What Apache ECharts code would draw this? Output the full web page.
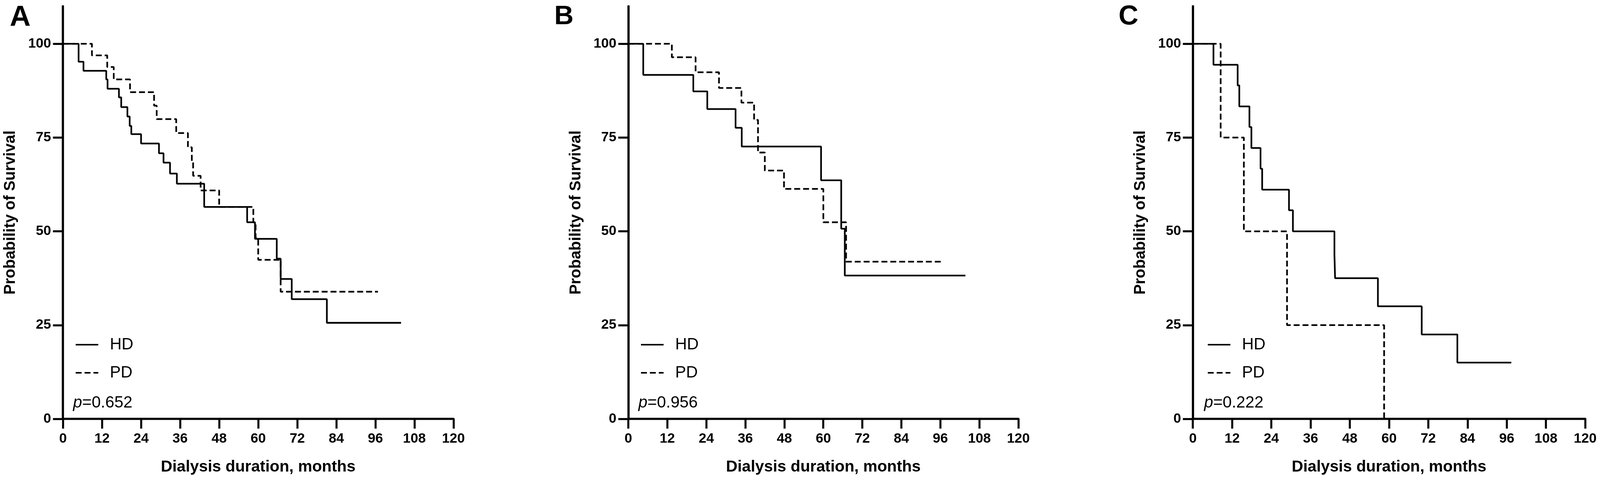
<!DOCTYPE html>
<html>
<head>
<meta charset="utf-8">
<script src="https://cdn.jsdelivr.net/npm/echarts@6/dist/echarts.min.js"></script>
<style>
html,body{margin:0;padding:0;background:#fff;overflow:hidden;}
#chart{width:100vw;height:100vh;}
</style>
</head>
<body>
<div id="chart"></div>
<script>
// ---- Data (months, probability of survival %) ----
const panelLabels = ['A', 'B', 'C'];
const seriesNames = ['HD', 'PD'];
const pValues = ['0.652', '0.956', '0.222'];
const yTickValues = [0, 25, 50, 75, 100];
const xTickInterval = 12;

const aHDTime = [0, 4.8, 6.3, 13.3, 13.7, 17.2, 17.9, 19.8, 20.5, 21.0, 24.0, 29.5, 30.9, 32.9, 35.0, 43.4, 56.6, 59.0, 65.7, 66.9, 70.3, 81.1, 103.9];
const aHDSurv = [100, 95.2, 92.8, 90.5, 88.0, 85.7, 83.1, 80.6, 78.1, 75.9, 73.4, 70.8, 68.3, 65.4, 62.7, 56.5, 52.4, 48.0, 42.7, 37.3, 31.9, 25.6, 25.6];
const aPDTime = [0, 8.9, 13.6, 15.6, 20.6, 28.0, 28.8, 34.8, 38.4, 39.6, 40.0, 42.3, 48.0, 58.5, 59.2, 60.0, 66.9, 96.8];
const aPDSurv = [100, 96.9, 93.8, 90.5, 87.1, 83.5, 79.9, 76.2, 72.4, 68.5, 64.8, 60.9, 56.5, 52.4, 48.2, 42.4, 33.9, 33.9];

const bHDTime = [0, 4.6, 20.0, 24.3, 33.0, 34.9, 59.3, 65.5, 66.6, 103.7];
const bHDSurv = [100, 91.7, 87.3, 82.6, 77.6, 72.6, 63.6, 50.7, 38.2, 38.2];
const bPDTime = [0, 13.4, 20.7, 27.9, 34.8, 38.7, 39.9, 42.0, 47.9, 60.0, 67.0, 96.5];
const bPDSurv = [100, 96.4, 92.4, 88.2, 84.3, 79.7, 71.0, 66.2, 61.3, 52.4, 41.9, 41.9];

const cHDTime = [0, 6.3, 13.7, 14.2, 17.3, 17.9, 20.7, 21.2, 29.4, 30.6, 43.3, 43.5, 56.6, 70.0, 80.9, 97.4];
const cHDSurv = [100, 94.4, 88.9, 83.3, 77.8, 72.2, 66.7, 61.1, 55.6, 50.0, 43.8, 37.5, 30.0, 22.5, 15.0, 15.0];
const cPDTime = [0, 8.5, 15.6, 28.8, 58.5];
const cPDSurv = [100, 75, 50, 25, 0];

// ---- Layout (reference pixel space 4319 x 1245, scaled to viewport) ----
const el = document.getElementById('chart');
const W = el.clientWidth || 4319, H = el.clientHeight || 1245;
const sx = W / 4319, sy = H / 1245, sf = Math.min(sx, sy);
const X = v => v * sx, Y = v => v * sy, F = v => v * sf;

const FONT = "'Liberation Sans', Arial, Helvetica, sans-serif";
const gridRef = [
  {left: 170, width: 1054},
  {left: 1696, width: 1053},
  {left: 3220, width: 1059}
];
const gridTop = 16, gridHeight = 1057;
const labelLeft = [21, 1491, 3014];
const labelSize = [78, 72, 74];
const legendLeftOffset = [27, 27, 33];
const pLeftOffset = [22, 22, 25];

function zip(t, s) { return t.map((v, i) => [v, s[i]]); }
const panelData = [
  [zip(aHDTime, aHDSurv), zip(aPDTime, aPDSurv)],
  [zip(bHDTime, bHDSurv), zip(bPDTime, bPDSurv)],
  [zip(cHDTime, cHDSurv), zip(cPDTime, cPDSurv)]
];

const option = {
  backgroundColor: '#fff',
  animation: false,
  grid: gridRef.map(g => ({
    left: X(g.left), width: X(g.width), top: Y(gridTop), height: Y(gridHeight),
    outerBoundsMode: 'none', containLabel: false
  })),
  xAxis: gridRef.map((g, i) => ({
    gridIndex: i, type: 'value', min: 0, max: 120, interval: xTickInterval,
    name: 'Dialysis duration, months', nameLocation: 'middle', nameGap: Y(124),
    nameTextStyle: {fontFamily: FONT, fontWeight: 'bold', fontSize: F(43), color: '#000', verticalAlign: 'middle'},
    axisLine: {show: true, onZero: false, lineStyle: {color: '#000', width: F(6)}},
    axisTick: {show: true, length: Y(25), lineStyle: {color: '#000', width: F(5.5)}},
    axisLabel: {fontFamily: FONT, fontWeight: 'bold', fontSize: F(37), color: '#000', margin: Y(34)},
    splitLine: {show: false}
  })),
  yAxis: gridRef.map((g, i) => ({
    gridIndex: i, type: 'value', min: 0, max: 110,
    name: 'Probability of Survival', nameLocation: 'middle', nameGap: X(141), nameRotate: 90,
    nameTextStyle: {fontFamily: FONT, fontWeight: 'bold', fontSize: F(42), color: '#000', verticalAlign: 'middle', align: 'center'},
    axisLine: {show: true, onZero: false, lineStyle: {color: '#000', width: F(6)}},
    axisTick: {show: true, length: X(27), customValues: yTickValues, lineStyle: {color: '#000', width: F(5.5)}},
    axisLabel: {fontFamily: FONT, fontWeight: 'bold', fontSize: F(37), color: '#000', margin: X(32), customValues: yTickValues},
    splitLine: {show: false}
  })),
  legend: gridRef.map((g, i) => ({
    orient: 'vertical', left: X(g.left + legendLeftOffset[i]), top: Y(857),
    data: seriesNames, itemWidth: X(61), itemHeight: Y(44), itemGap: Y(30),
    selectedMode: false,
    itemStyle: {color: 'rgba(0,0,0,0)', borderColor: 'rgba(0,0,0,0)', borderWidth: 0, opacity: 0},
    lineStyle: {width: F(4), color: '#000', cap: 'butt'},
    textStyle: {fontFamily: FONT, fontWeight: 'normal', fontSize: F(44), color: '#000', padding: [0, 0, 0, X(26)]}
  })),
  title: [].concat(
    panelLabels.map((t, i) => ({
      text: t, left: X(labelLeft[i]), top: Y(4),
      textStyle: {fontFamily: FONT, fontWeight: 'bold', fontSize: F(labelSize[i]), color: '#000'}
    })),
    pValues.map((p, i) => ({
      text: '{i|p}{n|=' + p + '}', left: X(gridRef[i].left + pLeftOffset[i]), top: Y(1006),
      textStyle: {
        fontWeight: 'normal', fontFamily: FONT, fontSize: F(44), color: '#000',
        rich: {
          i: {fontFamily: FONT, fontStyle: 'italic', fontWeight: 'normal', fontSize: F(44), color: '#000'},
          n: {fontFamily: FONT, fontWeight: 'normal', fontSize: F(44), color: '#000'}
        }
      }
    }))
  ),
  series: []
};

panelData.forEach((pair, i) => {
  pair.forEach((data, k) => {
    option.series.push({
      name: seriesNames[k], type: 'line', step: 'end',
      xAxisIndex: i, yAxisIndex: i, data: data,
      symbol: 'none', showSymbol: false, clip: false,
      lineStyle: {color: '#000', width: F(4.5), type: k === 0 ? 'solid' : [F(16), F(8)], cap: 'butt'},
      itemStyle: {color: '#000'}
    });
  });
});

const chart = echarts.init(el, null, {renderer: 'canvas'});
chart.setOption(option);
</script>
</body>
</html>
